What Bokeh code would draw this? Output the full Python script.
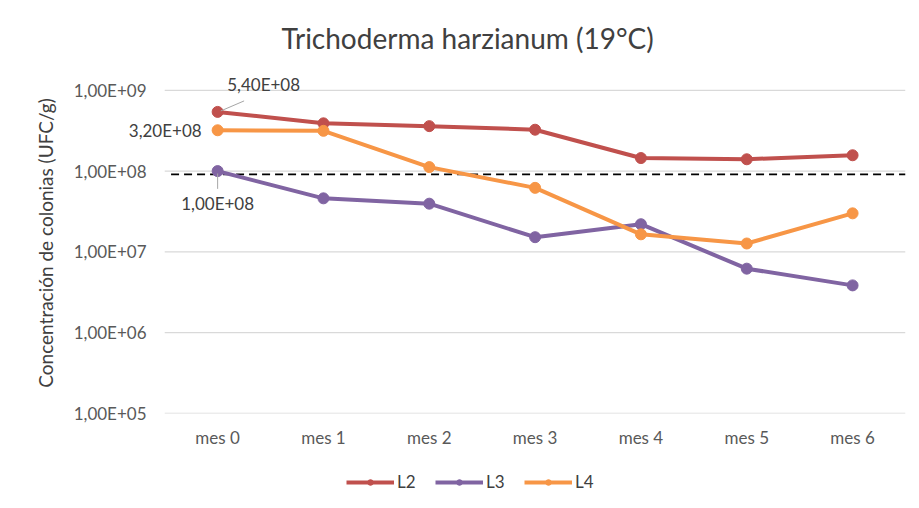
from bokeh.plotting import figure
from bokeh.layouts import column
from bokeh.models import (ColumnDataSource, FixedTicker, Legend, LegendItem, Range1d)
from bokeh.core.properties import value
from bokeh.embed import file_html
from bokeh.resources import INLINE

months = ["mes 0", "mes 1", "mes 2", "mes 3", "mes 4", "mes 5", "mes 6"]
l2 = [5.4e8, 3.9e8, 3.6e8, 3.25e8, 1.45e8, 1.4e8, 1.57e8]
l3 = [1.0e8, 4.6e7, 3.95e7, 1.52e7, 2.2e7, 6.2e6, 3.85e6]
l4 = [3.2e8, 3.15e8, 1.12e8, 6.2e7, 1.65e7, 1.27e7, 3.0e7]
threshold = 9.1e7
y_ticks = [1e5, 1e6, 1e7, 1e8, 1e9]
y_tick_labels = ["1,00E+05", "1,00E+06", "1,00E+07", "1,00E+08", "1,00E+09"]
series_names = ["L2", "L3", "L4"]
colors = ["#c0504d", "#8064a2", "#f79646"]
label_texts = ["5,40E+08", "3,20E+08", "1,00E+08"]

FONT = "Lato"
TXT = "#404040"
TICK = "#595959"

xi = list(range(len(months)))          # category positions
x_lo, x_hi = -0.5, len(months) - 0.5   # category band edges

p = figure(x_range=Range1d(-0.88, x_hi), y_axis_type="log",
           y_range=Range1d(1e5, 10 ** 9.22),
           width=919, height=460, output_backend="svg", toolbar_location=None,
           min_border_left=124, min_border_right=14, min_border_top=72,
           min_border_bottom=47)
p.outline_line_color = None

p.title.text = "Trichoderma harzianum (19°C)"
p.title.align = "left"
p.title.offset = 157
p.title.text_font = FONT
p.title.text_font_size = "28px"
p.title.text_font_style = "normal"
p.title.text_color = TXT
p.title.standoff = 36

p.grid.visible = False
# horizontal gridlines across the category area
p.segment(x0=[x_lo] * len(y_ticks), x1=[x_hi] * len(y_ticks), y0=y_ticks, y1=y_ticks,
          line_color="#d9d9d9", line_width=1.3)

p.xaxis.ticker = FixedTicker(ticks=xi)
p.xaxis.major_label_overrides = {i: m for i, m in zip(xi, months)}
p.yaxis.ticker = FixedTicker(ticks=y_ticks)
p.yaxis.major_label_overrides = {t: s for t, s in zip(y_ticks, y_tick_labels)}
for ax in (p.xaxis, p.yaxis):
    ax.axis_line_color = None
    ax.major_tick_line_color = None
    ax.minor_tick_line_color = None
    ax.major_label_text_font = FONT
    ax.major_label_text_font_size = "17px"
    ax.major_label_text_color = TICK
p.yaxis.major_label_standoff = -28
p.xaxis.major_label_standoff = 7
p.yaxis.axis_label = "Concentración de colonias (UFC/g)"
p.yaxis.axis_label_text_font = FONT
p.yaxis.axis_label_text_font_size = "19px"
p.yaxis.axis_label_text_font_style = "normal"
p.yaxis.axis_label_text_color = TXT
p.yaxis.axis_label_standoff = 14

# threshold dashed line
p.segment(x0=[xi[0] - 0.44], y0=[threshold], x1=[x_hi], y1=[threshold],
          line_color="black", line_width=1.6, line_dash="8 5")

for name, vals, c in zip(series_names, [l2, l3, l4], colors):
    src = ColumnDataSource(dict(x=xi, y=vals))
    p.line("x", "y", source=src, line_color=c, line_width=4)
    p.scatter("x", "y", source=src, size=11, fill_color=c, line_color=c)

# leader lines for data labels
p.segment(x0=[xi[0] + 0.03], y0=[l2[0] * 10 ** 0.012],
          x1=[xi[0] + 0.25], y1=[l2[0] * 10 ** 0.136],
          line_color="#a6a6a6", line_width=1)
p.segment(x0=[xi[0]], y0=[l3[0] * 10 ** -0.03],
          x1=[xi[0]], y1=[l3[0] * 10 ** -0.22],
          line_color="#a6a6a6", line_width=1)

# data labels
lab_src = ColumnDataSource(dict(
    x=[xi[0]] * 3,
    y=[l2[0], l4[0], l3[0]],
    text=label_texts,
    dx=[46, -16, 0],
    dy=[-27, 0, 32],
    ta=["center", "right", "center"],
))
p.text("x", "y", text="text", source=lab_src, x_offset="dx", y_offset="dy",
       text_align="ta", text_baseline="middle", text_font=value(FONT),
       text_font_size="17px", text_color=TXT)

# legend strip below the chart
q = figure(width=919, height=48, output_backend="svg", toolbar_location=None,
           x_range=p.x_range, y_axis_type="log", y_range=Range1d(1e10, 1e11),
           min_border=0)
q.axis.visible = False
q.grid.visible = False
q.outline_line_color = None
items = []
for name, vals, c in zip(series_names, [l2, l3, l4], colors):
    src = ColumnDataSource(dict(x=xi, y=vals))
    r1 = q.line("x", "y", source=src, line_color=c, line_width=4)
    r2 = q.scatter("x", "y", source=src, size=11, fill_color=c, line_color=c)
    items.append(LegendItem(label=name, renderers=[r1, r2]))
legend = Legend(items=items, orientation="horizontal", location=(222, 16),
                label_text_font=FONT, label_text_font_size="17px",
                label_text_color=TXT, glyph_width=48, glyph_height=14,
                label_standoff=3, spacing=18, border_line_color=None,
                background_fill_alpha=0, margin=0, padding=4)
q.add_layout(legend, "center")

open("out.html", "w").write(file_html(column(p, q, spacing=0), INLINE))
